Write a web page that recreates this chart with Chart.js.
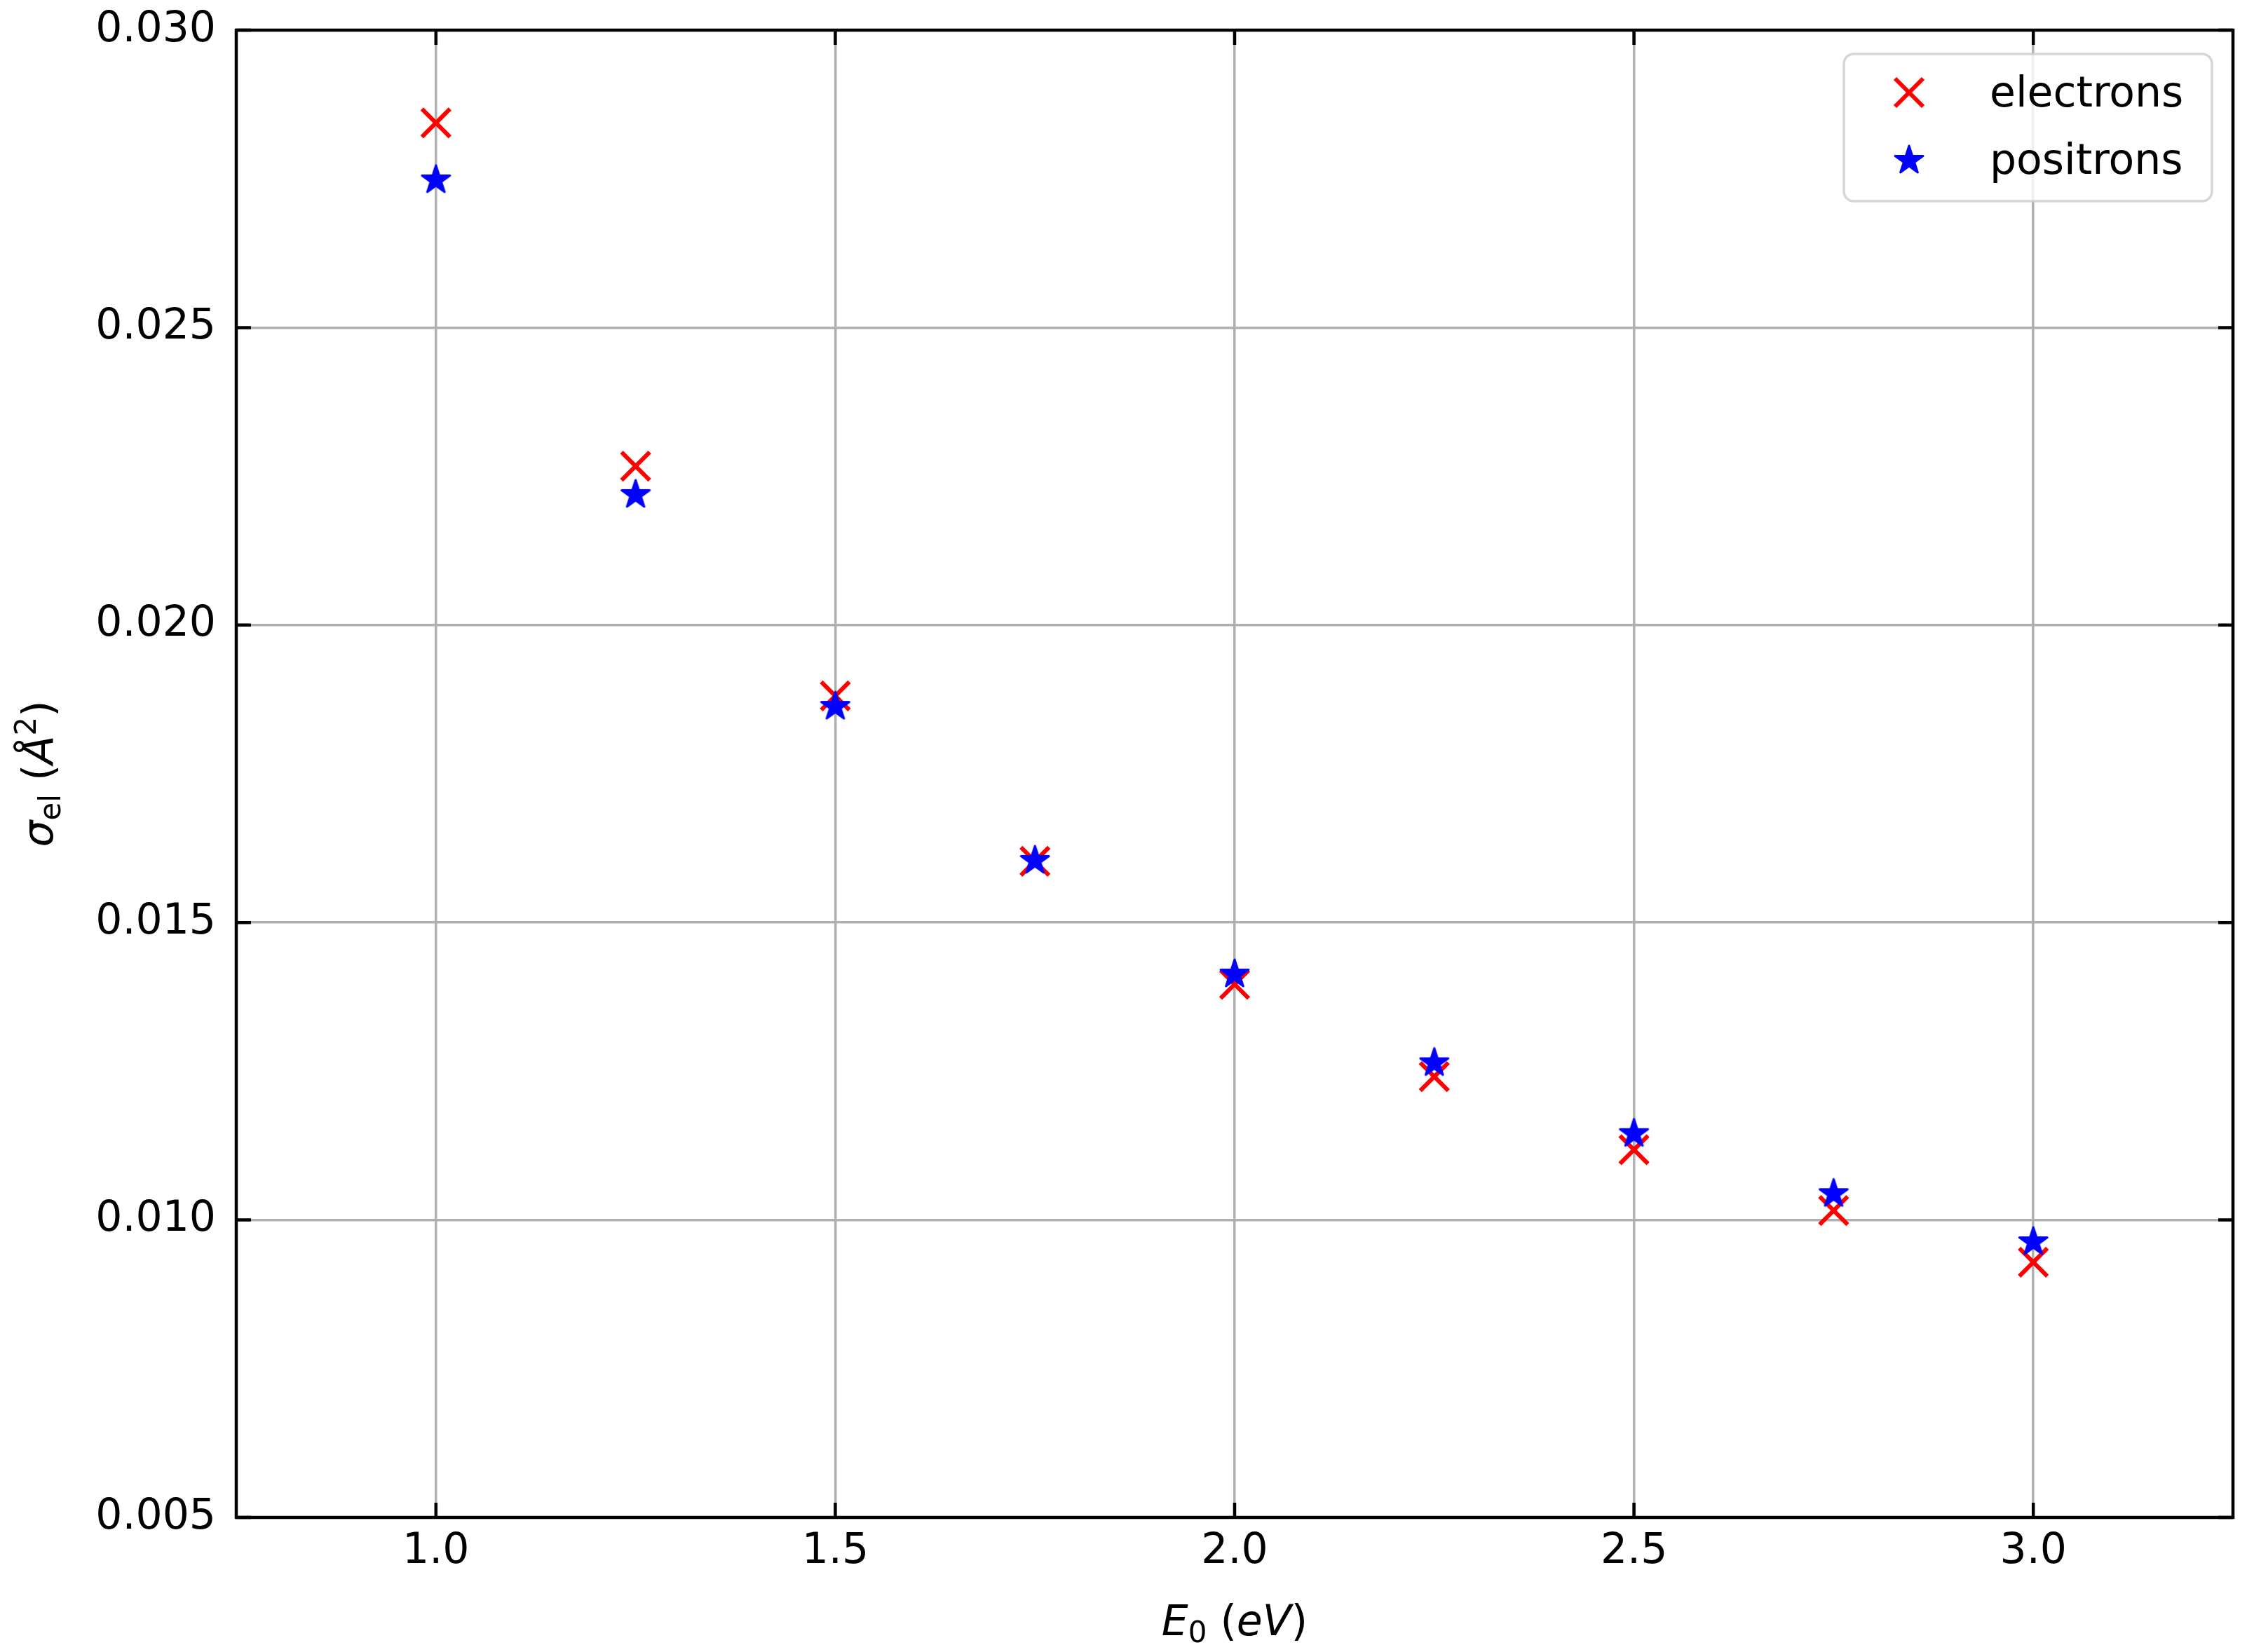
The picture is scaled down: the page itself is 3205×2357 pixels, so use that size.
<!DOCTYPE html>
<html>
<head>
<meta charset="utf-8">
<script src="https://cdn.jsdelivr.net/npm/chart.js@4.4.1/dist/chart.umd.min.js"></script>
<style>
  html, body { margin: 0; padding: 0; background: #fff; }
  #plot { display: block; }
</style>
</head>
<body>
<canvas id="plot" width="3205" height="2357"></canvas>
<script>
// --- Data ---
const energies = [1.0, 1.25, 1.5, 1.75, 2.0, 2.25, 2.5, 2.75, 3.0];
const electrons = [0.02844, 0.02267, 0.01881, 0.01603, 0.01396, 0.01241, 0.01118, 0.01016, 0.00929];
const positrons = [0.02748, 0.02219, 0.01863, 0.01604, 0.01413, 0.01264, 0.01145, 0.01044, 0.00963];

const xTicks = [1.0, 1.5, 2.0, 2.5, 3.0];
const xTickLabels = ['1.0', '1.5', '2.0', '2.5', '3.0'];
const yTicks = [0.005, 0.010, 0.015, 0.020, 0.025, 0.030];
const yTickLabels = ['0.005', '0.010', '0.015', '0.020', '0.025', '0.030'];
const seriesNames = ['electrons', 'positrons'];

const FONT = '"DejaVu Sans", sans-serif';
const RED = '#ff0000';
const BLUE = '#0000ff';

// filled five-point star like matplotlib's '*' marker
function makeStar(r, color) {
    const s = Math.ceil(r * 2 + 8);
    const c = document.createElement('canvas');
    c.width = s; c.height = s;
    const g = c.getContext('2d');
    g.translate(s / 2, s / 2);
    g.beginPath();
    for (let i = 0; i < 10; i++) {
        const rad = i % 2 ? r * 0.381966 : r;
        const a = -Math.PI / 2 + i * Math.PI / 5;
        g.lineTo(rad * Math.cos(a), rad * Math.sin(a));
    }
    g.closePath();
    g.fillStyle = color;
    g.fill();
    g.lineJoin = 'round';
    g.lineWidth = 3;
    g.strokeStyle = color;
    g.stroke();
    return c;
}
const starImg = makeStar(21, BLUE);

function drawCross(ctx, x, y, h, color) {
    ctx.save();
    ctx.strokeStyle = color;
    ctx.lineWidth = 6;
    ctx.beginPath();
    ctx.moveTo(x - h, y - h); ctx.lineTo(x + h, y + h);
    ctx.moveTo(x - h, y + h); ctx.lineTo(x + h, y - h);
    ctx.stroke();
    ctx.restore();
}

// text made of pieces (subscripts, superscripts, italics)
function richText(ctx, parts, x, y, angle) {
    ctx.save();
    ctx.translate(x, y);
    ctx.rotate(angle);
    const fontOf = p => (p.italic ? 'italic ' : '') + (p.size || 60) + 'px ' + FONT;
    let w = 0;
    parts.forEach(p => { ctx.font = fontOf(p); p.w = ctx.measureText(p.t).width; w += p.w; });
    let cx = -w / 2;
    ctx.fillStyle = '#000';
    ctx.textBaseline = 'alphabetic';
    ctx.textAlign = 'left';
    parts.forEach(p => { ctx.font = fontOf(p); ctx.fillText(p.t, cx, p.dy || 0); cx += p.w; });
    ctx.restore();
}

// --- frame + inward ticks on all four sides ---
const framePlugin = {
    id: 'frame',
    afterDatasetsDraw(chart) {
        const { ctx, chartArea: a, scales } = chart;
        const tl = 21;
        ctx.save();
        ctx.strokeStyle = '#000';
        ctx.lineWidth = 4.5;
        ctx.beginPath();
        xTicks.forEach(v => {
            const px = scales.x.getPixelForValue(v);
            ctx.moveTo(px, a.bottom); ctx.lineTo(px, a.bottom - tl);
            ctx.moveTo(px, a.top); ctx.lineTo(px, a.top + tl);
        });
        yTicks.forEach(v => {
            const py = scales.y.getPixelForValue(v);
            ctx.moveTo(a.left, py); ctx.lineTo(a.left + tl, py);
            ctx.moveTo(a.right, py); ctx.lineTo(a.right - tl, py);
        });
        ctx.stroke();
        ctx.strokeRect(a.left, a.top, a.right - a.left, a.bottom - a.top);
        ctx.restore();
    }
};

// --- axis titles and legend ---
const overlayPlugin = {
    id: 'overlay',
    afterDraw(chart) {
        const { ctx, chartArea: a } = chart;
        const cx = (a.left + a.right) / 2;
        const cy = (a.top + a.bottom) / 2;

        richText(ctx, [
            { t: 'E', italic: true },
            { t: '0', size: 42, dy: 10 },
            { t: ' ' },
            { t: '(' },
            { t: 'eV', italic: true },
            { t: ')' }
        ], cx, 2333, 0);

        richText(ctx, [
            { t: 'σ', italic: true },
            { t: 'el', size: 42, dy: 11 },
            { t: ' ' },
            { t: '(' },
            { t: 'Å', italic: true },
            { t: '2', size: 42, dy: -24 },
            { t: ')' }
        ], 75, cy, -Math.PI / 2);

        // legend box
        const bx = 2630, by = 77, bw = 525, bh = 210, r = 14;
        ctx.save();
        ctx.beginPath();
        ctx.roundRect(bx, by, bw, bh, r);
        ctx.fillStyle = 'rgba(255,255,255,0.8)';
        ctx.fill();
        ctx.strokeStyle = 'rgba(204,204,204,0.8)';
        ctx.lineWidth = 3.5;
        ctx.stroke();
        ctx.restore();

        drawCross(ctx, 2723, 132, 20, RED);
        ctx.drawImage(starImg, 2723 - starImg.width / 2, 229 - starImg.height / 2);

        ctx.save();
        ctx.fillStyle = '#000';
        ctx.font = '60px ' + FONT;
        ctx.textAlign = 'left';
        ctx.textBaseline = 'alphabetic';
        ctx.fillText(seriesNames[0], 2838, 152);
        ctx.fillText(seriesNames[1], 2838, 248);
        ctx.restore();
    }
};

const ctx = document.getElementById('plot').getContext('2d');
const chart = new Chart(ctx, {
    type: 'scatter',
    data: {
        datasets: [{
            label: seriesNames[0],
            data: energies.map((x, i) => ({ x, y: electrons[i] })),
            pointStyle: 'crossRot',
            pointRadius: 28.3,
            borderColor: RED,
            backgroundColor: RED,
            pointBorderWidth: 6,
            order: 2
        }, {
            label: seriesNames[1],
            data: energies.map((x, i) => ({ x, y: positrons[i] })),
            pointStyle: starImg,
            pointRadius: 22,
            borderColor: BLUE,
            backgroundColor: BLUE,
            order: 1
        }]
    },
    options: {
        responsive: false,
        animation: false,
        events: [],
        layout: { autoPadding: false, padding: { top: 43, right: 20, left: 0, bottom: 0 } },
        plugins: {
            legend: { display: false },
            tooltip: { enabled: false }
        },
        scales: {
            x: {
                type: 'linear',
                min: 0.75,
                max: 3.25,
                afterBuildTicks: s => { s.ticks = xTicks.map(v => ({ value: v })); },
                afterFit: s => { s.height = 192; s.paddingLeft = 0; s.paddingRight = 0; },
                ticks: {
                    padding: 13,
                    color: '#000',
                    font: { family: FONT, size: 60 },
                    callback: (v) => xTickLabels[xTicks.indexOf(v)] ?? ''
                },
                grid: { color: '#b0b0b0', lineWidth: 3.5, drawTicks: false },
                border: { display: false }
            },
            y: {
                type: 'linear',
                min: 0.005,
                max: 0.030,
                afterBuildTicks: s => { s.ticks = yTicks.map(v => ({ value: v })); },
                afterFit: s => { s.width = 337; s.paddingTop = 0; s.paddingBottom = 0; },
                ticks: {
                    padding: 29,
                    color: '#000',
                    font: { family: FONT, size: 60 },
                    callback: (v) => {
                        const i = yTicks.findIndex(t => Math.abs(t - v) < 1e-9);
                        return i >= 0 ? yTickLabels[i] : '';
                    }
                },
                grid: { color: '#b0b0b0', lineWidth: 3.5, drawTicks: false },
                border: { display: false }
            }
        }
    },
    plugins: [framePlugin, overlayPlugin]
});
</script>
</body>
</html>
